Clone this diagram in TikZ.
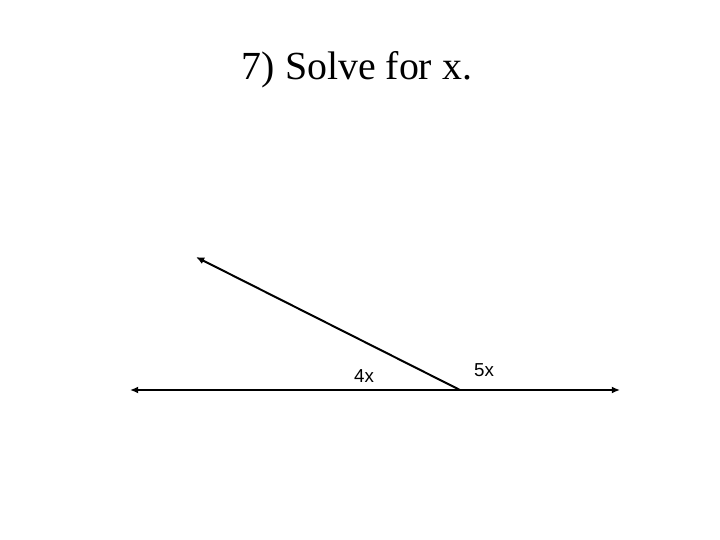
\documentclass[tikz,border=0pt]{standalone}
\usepackage{fontspec}
\setmainfont{Liberation Serif}
\newfontfamily\labelfont{Liberation Sans}
\usetikzlibrary{arrows.meta}

\begin{document}
\begin{tikzpicture}[x=0.03cm, y=-0.03cm,
	ray/.style={line width=1.7pt},
	anglelabel/.style={font=\labelfont\fontsize{16}{19}\selectfont}]
		\useasboundingbox (0,0) rectangle (720,540);
		\node (title) at (357,70) {\fontsize{34}{40}\selectfont 7) Solve for x.};

		\path (130,390) coordinate (left)
		(620,390) coordinate (right)
		(460,390) coordinate (vertex)
		(196,257) coordinate (tip);

		\draw[ray, {Latex[length=7pt,width=6pt]}-{Latex[length=7pt,width=6pt]}] (left) -- (right);
		\draw[ray, -{Latex[length=7pt,width=6pt]}] (vertex) -- (tip);

		\node[anglelabel] (small) at (364,376) {4x};
		\node[anglelabel] (large) at (484,370) {5x};
	\end{tikzpicture}
\end{document}
